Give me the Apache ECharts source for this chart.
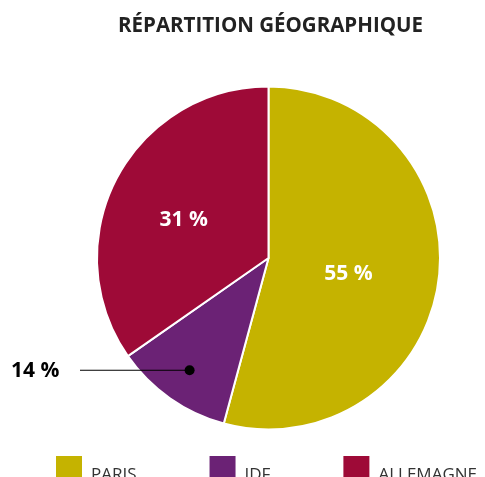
<!DOCTYPE html>
<html>
<head>
<meta charset="utf-8">
<script src="https://cdn.jsdelivr.net/npm/echarts@6/dist/echarts.min.js"></script>
<style>
html,body{margin:0;padding:0;background:#fff;}
#chart{width:485px;height:477px;}
</style>
</head>
<body>
<div id="chart"></div>
<script>
// data: slice sizes as drawn, and the percentages printed on them
const regions=["PARIS","IDF","ALLEMAGNE"];
const sliceShares=[54.2,11.1,34.7];
const printedShares=[55,14,31];
const colors=["#c5b300","#6b2275","#9e0a37"];

const center=[268.5,258];
const radius=171.5;
const outsideIndex=1;   // IDF label sits outside with a pointer

const total=sliceShares.reduce((a,b)=>a+b,0);

// point inside a slice, measured clockwise from the top
function slicePoint(idx,frac,rFrac){
    let before=0;
    for(let i=0;i<idx;i++) before+=sliceShares[i];
    const ang=(before+sliceShares[idx]*frac)/total*2*Math.PI;
    return [
        center[0]+Math.sin(ang)*radius*rFrac,
        center[1]-Math.cos(ang)*radius*rFrac
    ];
}

const dot=slicePoint(outsideIndex,0.5,0.8);
const lineEndX=80;

const chart=echarts.init(document.getElementById("chart"));

chart.setOption({
    animation:false,
    title:{
        text:"RÉPARTITION GÉOGRAPHIQUE",
        left:118,
        top:16,
        padding:0,
        textStyle:{
            fontFamily:"Open Sans",
            fontWeight:"bold",
            fontSize:20.5,
            color:"#222"
        }
    },
    legend:{
        data:regions,
        left:54,
        top:454,
        padding:0,
        itemWidth:28,
        itemHeight:28,
        itemGap:71,
        icon:"rect",
        formatter:"{t|{name}}",
        textStyle:{
            fontFamily:"Open Sans",
            fontSize:17,
            color:"#333",
            rich:{
                t:{
                    fontFamily:"Open Sans",
                    fontSize:17,
                    color:"#333",
                    padding:[12,0,0,3]
                }
            }
        }
    },
    graphic:[
        {
            type:"polyline",
            shape:{points:[[lineEndX,dot[1]],dot]},
            style:{stroke:"#000",lineWidth:1.2},
            z:100
        },
        {
            type:"circle",
            shape:{cx:dot[0],cy:dot[1],r:5},
            style:{fill:"#000"},
            z:100
        }
    ],
    series:[{
        type:"pie",
        center:center,
        radius:radius,
        startAngle:90,
        clockwise:true,
        avoidLabelOverlap:false,
        itemStyle:{
            borderColor:"#fff",
            borderWidth:2
        },
        label:{
            show:true,
            position:"inside",
            formatter:p=>printedShares[p.dataIndex]+" %",
            fontFamily:"Open Sans",
            fontWeight:"bold",
            fontSize:21,
            color:"#fff"
        },
        labelLine:{show:false},
        labelLayout(params){
            if(params.dataIndex!==outsideIndex) return {};
            return {
                x:11,
                y:dot[1]+1,
                align:"left",
                verticalAlign:"middle"
            };
        },
        data:regions.map((name,i)=>{
            const item={
                name:name,
                value:sliceShares[i],
                itemStyle:{color:colors[i]}
            };
            if(i===outsideIndex){
                item.label={position:"outside",color:"#000"};
            }
            if(name==="PARIS"){
                item.label={offset:[-8,4]};
            }
            if(name==="ALLEMAGNE"){
                item.label={offset:[-6,3]};
            }
            return item;
        })
    }]
});
</script>
</body>
</html>
